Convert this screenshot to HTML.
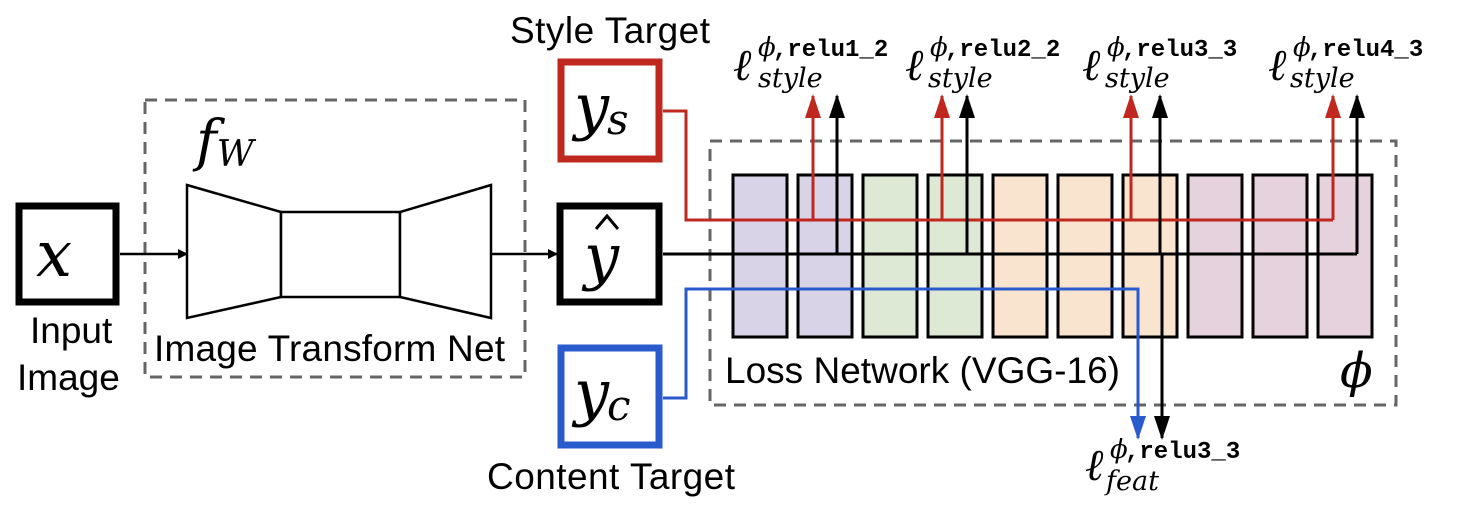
<!DOCTYPE html>
<html><head><meta charset="utf-8"><style>
body{margin:0;background:#fff}
svg text{font-family:"Liberation Sans",sans-serif}
.m{font-family:"DejaVu Serif","Liberation Serif",serif;font-style:italic}
.t{font-family:"Liberation Mono",monospace;font-weight:bold}
</style></head><body>
<svg width="1470" height="516" viewBox="0 0 1470 516" xmlns="http://www.w3.org/2000/svg">
<defs>
<marker id="ak" markerWidth="10" markerHeight="10" refX="9" refY="5" orient="auto" markerUnits="userSpaceOnUse"><path d="M0,0 L10,5 L0,10z" fill="#000"/></marker>
<marker id="ab" markerWidth="24" markerHeight="16" refX="22" refY="8" orient="auto" markerUnits="userSpaceOnUse"><path d="M0,0 L24,8 L0,16z" fill="#000"/></marker>
<marker id="ar" markerWidth="24" markerHeight="16" refX="22" refY="8" orient="auto" markerUnits="userSpaceOnUse"><path d="M0,0 L24,8 L0,16z" fill="#c0281f"/></marker>
<marker id="abl" markerWidth="24" markerHeight="16" refX="22" refY="8" orient="auto" markerUnits="userSpaceOnUse"><path d="M0,0 L24,8 L0,16z" fill="#2a5bcc"/></marker>
</defs>
<rect x="145" y="100" width="380" height="277" fill="none" stroke="#666" stroke-width="3" stroke-dasharray="12,8"/>
<rect x="710" y="141" width="686" height="264" fill="none" stroke="#666" stroke-width="3" stroke-dasharray="12,8"/>
<g stroke="#000" stroke-width="3">
<rect x="733" y="175" width="54" height="162" fill="#d9d3e8"/>
<rect x="798" y="175" width="54" height="162" fill="#d9d3e8"/>
<rect x="863" y="175" width="54" height="162" fill="#dde9d5"/>
<rect x="928" y="175" width="54" height="162" fill="#dde9d5"/>
<rect x="993" y="175" width="54" height="162" fill="#f8e4cf"/>
<rect x="1058" y="175" width="54" height="162" fill="#f8e4cf"/>
<rect x="1123" y="175" width="54" height="162" fill="#f8e4cf"/>
<rect x="1188" y="175" width="54" height="162" fill="#e6d2dc"/>
<rect x="1253" y="175" width="54" height="162" fill="#e6d2dc"/>
<rect x="1318" y="175" width="54" height="162" fill="#e6d2dc"/>
</g>
<g fill="#fff" stroke="#000" stroke-width="2.5">
<path d="M187,185 L281,212 L281,297 L187,318z"/>
<rect x="281" y="212" width="119" height="85"/>
<path d="M491,185 L400,212 L400,297 L491,318z"/>
</g>
<line x1="120" y1="254" x2="187" y2="254" stroke="#000" stroke-width="2.5" marker-end="url(#ak)"/>
<line x1="491" y1="254" x2="557" y2="254" stroke="#000" stroke-width="2.5" marker-end="url(#ak)"/>
<g fill="none" stroke="#c0281f" stroke-width="3">
<path d="M663,111 L686,111 L686,220 L1333,220"/>
<line x1="813" y1="220" x2="813" y2="96" marker-end="url(#ar)"/>
<line x1="942" y1="220" x2="942" y2="96" marker-end="url(#ar)"/>
<line x1="1131" y1="220" x2="1131" y2="96" marker-end="url(#ar)"/>
<line x1="1333" y1="220" x2="1333" y2="96" marker-end="url(#ar)"/>
</g>
<g fill="none" stroke="#000" stroke-width="3">
<path d="M663,254 L1357,254"/>
<line x1="837" y1="254" x2="837" y2="96" marker-end="url(#ab)"/>
<line x1="967" y1="254" x2="967" y2="96" marker-end="url(#ab)"/>
<line x1="1160" y1="254" x2="1160" y2="96" marker-end="url(#ab)"/>
<line x1="1357" y1="254" x2="1357" y2="96" marker-end="url(#ab)"/>
<line x1="1162" y1="254" x2="1162" y2="438" marker-end="url(#ab)"/>
</g>
<g fill="none" stroke="#2a5bcc" stroke-width="3">
<path d="M663,398 L686,398 L686,289 L1138,289 L1138,438" marker-end="url(#abl)"/>
</g>
<rect x="19" y="206" width="97" height="96" fill="#fff" stroke="#000" stroke-width="7"/>
<rect x="560" y="206" width="99" height="96" fill="#fff" stroke="#000" stroke-width="7"/>
<rect x="561" y="62" width="98" height="97" fill="#fff" stroke="#c0281f" stroke-width="7"/>
<rect x="561" y="348" width="98" height="97" fill="#fff" stroke="#2a5bcc" stroke-width="7"/>
<text class="m" x="36" y="276" font-size="64">x</text>
<text class="m" x="584" y="278" font-size="62">y</text>
<path d="M596,229 L607,216 L618,229" fill="none" stroke="#000" stroke-width="3"/>
<text class="m" x="574" y="128" font-size="62">y<tspan font-size="42" dx="-2" dy="6">s</tspan></text>
<text class="m" x="574" y="414" font-size="62">y<tspan font-size="42" dx="-2" dy="6">c</tspan></text>
<text class="m" x="196" y="160" font-size="56">f<tspan font-size="36" dy="6">W</tspan></text>
<g font-size="37" fill="#000">
<text x="30" y="343">Input</text>
<text x="17" y="390">Image</text>
<text x="154" y="361" textLength="351">Image Transform Net</text>
<text x="510" y="43" textLength="200">Style Target</text>
<text x="487" y="489" textLength="248">Content Target</text>
<text x="725" y="383" textLength="395">Loss Network (VGG-16)</text>
</g>
<text class="m" x="1340" y="387" font-size="48">ϕ</text>
<g font-size="44">
<text x="733" y="80" class="m">ℓ</text><text x="758" y="56" class="m" font-size="26">ϕ</text><text x="773" y="56" class="t" font-size="24">,relu1_2</text><text x="758" y="87" class="m" font-size="27">style</text>
<text x="905" y="80" class="m">ℓ</text><text x="930" y="56" class="m" font-size="26">ϕ</text><text x="945" y="56" class="t" font-size="24">,relu2_2</text><text x="928" y="87" class="m" font-size="27">style</text>
<text x="1082" y="80" class="m">ℓ</text><text x="1107" y="56" class="m" font-size="26">ϕ</text><text x="1122" y="56" class="t" font-size="24">,relu3_3</text><text x="1105" y="87" class="m" font-size="27">style</text>
<text x="1268" y="80" class="m">ℓ</text><text x="1293" y="56" class="m" font-size="26">ϕ</text><text x="1308" y="56" class="t" font-size="24">,relu4_3</text><text x="1290" y="87" class="m" font-size="27">style</text>
<text x="1085" y="480" class="m">ℓ</text><text x="1110" y="458" class="m" font-size="26">ϕ</text><text x="1125" y="458" class="t" font-size="24">,relu3_3</text><text x="1106" y="490" class="m" font-size="27">feat</text>
</g>
</svg>
</body></html>
